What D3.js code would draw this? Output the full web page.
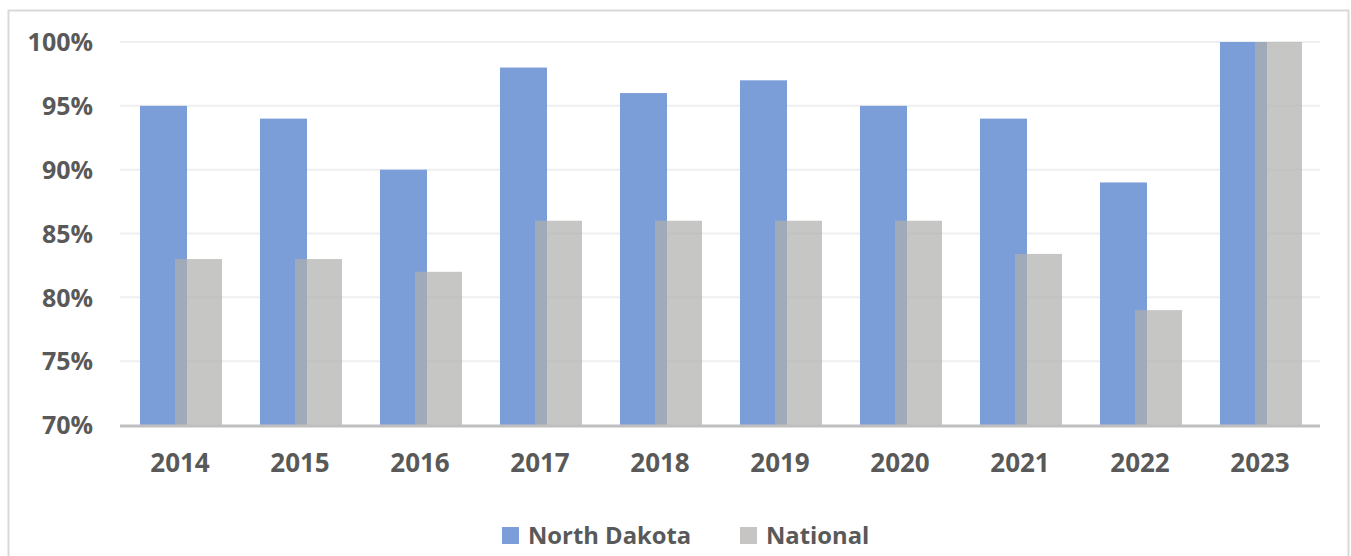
<!DOCTYPE html>
<html><head><meta charset="utf-8">
<script src="https://cdn.jsdelivr.net/npm/d3@7"></script>
<style>body{margin:0;background:#fff;} svg{display:block;}</style>
</head><body>
<script>
const years = ["2014","2015","2016","2017","2018","2019","2020","2021","2022","2023"];
const northDakota = [95,94,90,98,96,97,95,94,89,100];
const national = [83,83,82,86,86,86,86,83.4,79,100];
const yTicks = [70,75,80,85,90,95,100];
const seriesNames = ["North Dakota","National"];

const W = 1351, H = 556;
const svg = d3.select("body").append("svg").attr("width", W).attr("height", H);
const font = "'Open Sans', sans-serif";

svg.append("rect").attr("x",8.5).attr("y",10.5).attr("width",1340).attr("height",560)
  .attr("fill","#fff").attr("stroke","#d9d9d9").attr("stroke-width",2);

const x = d3.scaleBand().domain(years).range([120,1320]);
const y = d3.scaleLinear().domain([70,100]).range([425,42]);

const grid = svg.append("g");
grid.selectAll("line").data(yTicks.slice(1)).join("line")
  .attr("x1",120).attr("x2",1320).attr("y1",d=>y(d)).attr("y2",d=>y(d))
  .attr("stroke","#efefef").attr("stroke-width",2);

const barW = 47, off = 35;
const g = svg.append("g");
g.selectAll("rect.nd").data(years).join("rect").attr("class","nd")
  .attr("x",(d)=>x(d)+x.bandwidth()/2-(barW+off)/2+1)
  .attr("y",(d,i)=>y(northDakota[i]))
  .attr("width",barW).attr("height",(d,i)=>y(70)-y(northDakota[i]))
  .attr("fill","#7b9ed8");
g.selectAll("rect.nat").data(years).join("rect").attr("class","nat")
  .attr("x",(d)=>x(d)+x.bandwidth()/2-(barW+off)/2+off+1)
  .attr("y",(d,i)=>y(national[i]))
  .attr("width",barW).attr("height",(d,i)=>y(70)-y(national[i]))
  .attr("fill","rgb(175,174,172)").attr("fill-opacity",0.71);

svg.append("line").attr("x1",120).attr("x2",1320).attr("y1",y(70)+1).attr("y2",y(70)+1)
  .attr("stroke","#bfbfbf").attr("stroke-width",3);

const yAxis = d3.axisLeft(y).tickValues(yTicks).tickSize(0).tickPadding(0).tickFormat(d=>d+"%");
const ya = svg.append("g").attr("transform","translate(93,0)").call(yAxis);
ya.select(".domain").remove();
ya.selectAll("text").attr("font-family",font).attr("font-weight","bold").attr("font-size",25)
  .attr("fill","#595959").attr("dy","0.35em");

const xAxis = d3.axisBottom(x).tickSize(0).tickPadding(0);
const xa = svg.append("g").attr("transform","translate(0,463)").call(xAxis);
xa.select(".domain").remove();
xa.selectAll("text").attr("font-family",font).attr("font-weight","bold").attr("font-size",26)
  .attr("fill","#595959").attr("dy","0.35em");

const colors = ["#7b9ed8","#c6c5c4"];
const legX = [502,740];
const leg = svg.append("g");
seriesNames.forEach((n,i)=>{
  leg.append("rect").attr("x",legX[i]).attr("y",527).attr("width",17).attr("height",17).attr("fill",colors[i]);
  leg.append("text").attr("x",legX[i]+26).attr("y",543.5)
    .attr("font-family",font).attr("font-weight","bold").attr("font-size",23.8).attr("fill","#595959").text(n);
});
</script>
</body></html>
